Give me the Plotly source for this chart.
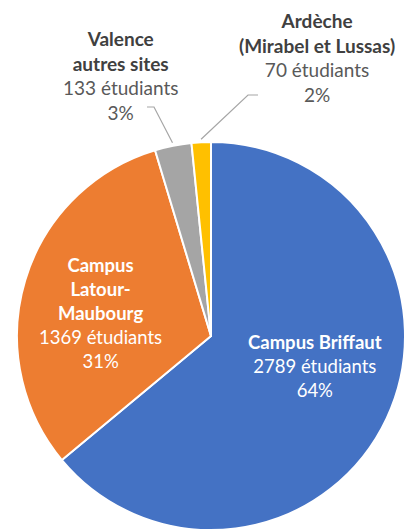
import math
import plotly.graph_objects as go

# data
sites = ["Campus Briffaut", "Campus<br>Latour-<br>Maubourg", "Valence<br>autres sites", "Ardèche<br>(Mirabel et Lussas)"]
etudiants = [2789, 1369, 133, 70]
pourcents = ["64%", "31%", "3%", "2%"]
couleurs = ["#4472C4", "#ED7D31", "#A5A5A5", "#FFC000"]

W, H = 406, 530
FONT = "Lato"
# pie placement in pixels
cx, cy, R = 211, 336, 194


def px(x, y):
    return x / W, 1 - y / H


fig = go.Figure(go.Pie(
    values=etudiants,
    labels=sites,
    textinfo="none",
    marker=dict(colors=couleurs, line=dict(color="white", width=2)),
    sort=False,
    direction="clockwise",
    rotation=0,
    domain=dict(x=[max(0, (cx - R) / W), min(1, (cx + R) / W)],
                y=[max(0, 1 - (cy + R) / H), min(1, 1 - (cy - R) / H)]),
    hoverinfo="label+value+percent",
))

# slice mid-angles (clockwise from 12 o'clock)
total = sum(etudiants)
cum = 0
mids = []
for v in etudiants:
    mids.append((cum + v / 2) / total * 2 * math.pi)
    cum += v

# label centres (px) for each slice
label_xy = [(315, 366), (100, 313), (120, 76), (317, 58)]
for i, (tx, ty) in enumerate(label_xy):
    inside = i < 2
    if inside:
        txt = f"<b>{sites[i]}</b><br>{etudiants[i]} étudiants<br>{pourcents[i]}"
        font = dict(family=FONT, size=18.5, color="white")
    else:
        txt = f"<b style='color:#404040'>{sites[i]}</b><br>{etudiants[i]} étudiants<br>{pourcents[i]}"
        font = dict(family=FONT, size=19, color="#595959")
    ax, ay = px(tx, ty)
    fig.add_annotation(x=ax, y=ay, xref="paper", yref="paper", showarrow=False,
                       text=txt, font=font, align="center",
                       xanchor="center", yanchor="middle")

# leader lines for the small slices: text end -> elbow -> slice edge
leaders = {2: ((147, 107), (154, 107)), 3: ((258, 95), (248, 95))}
for i, (start, knee) in leaders.items():
    a = mids[i]
    ex, ey = cx + (R + 3) * math.sin(a), cy - (R + 3) * math.cos(a)
    pts = [px(*start), px(*knee), px(ex, ey)]
    path = "M " + " L ".join(f"{x} {y}" for x, y in pts)
    fig.add_shape(type="path", xref="paper", yref="paper", path=path,
                  line=dict(color="#A6A6A6", width=1.2))

fig.update_layout(
    width=W, height=H,
    margin=dict(l=0, r=0, t=0, b=0),
    showlegend=False,
    paper_bgcolor="white",
    plot_bgcolor="white",
)

fig.write_html("out.html", config={"displayModeBar": False},
               post_script="document.body.style.margin='0';")
